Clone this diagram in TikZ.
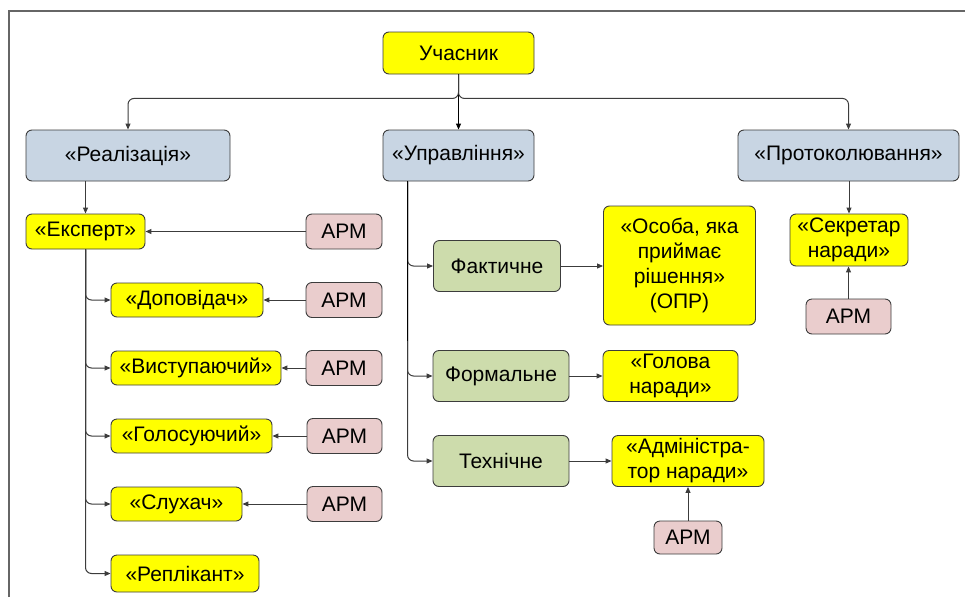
\documentclass[tikz,border=0pt]{standalone}
\usepackage{fontspec}
\setmainfont{Liberation Sans}
\usepackage{tikz}
\usepackage{xcolor}
\usetikzlibrary{arrows.meta, positioning, calc}
\definecolor{cYellow}{RGB}{255,255,0}
\definecolor{cSteel}{RGB}{200,213,227}
\definecolor{cSage}{RGB}{205,220,172}
\definecolor{cRose}{RGB}{234,205,205}
\definecolor{cLine}{RGB}{60,60,60}
\tikzset{
    basebox/.style  ={rectangle, rounded corners=6pt, draw=cLine, line width=0.9pt, align=center, inner sep=2pt, text=black},
    role/.style     ={basebox, fill=cYellow, minimum height=34pt},
    group/.style    ={basebox, fill=cSteel, minimum height=51pt},
    kind/.style     ={basebox, fill=cSage, minimum height=51pt},
    armbox/.style   ={basebox, fill=cRose, minimum width=76pt, minimum height=35pt},
    flowarrow/.style={-{Triangle[length=6pt,width=5pt]}, line width=1pt, draw=cLine},
}

\begin{document}
\begin{tikzpicture}[x=1pt, y=-1pt, every node/.style={font=\fontsize{21}{25}\selectfont}]
        \useasboundingbox (0,0) rectangle (965,597);
        % frame
        \draw[line width=1.5pt, draw=black!60] (9,597) -- (9,11) -- (965,11);
        % top
        \node[role, minimum width=151pt, minimum height=42pt] (part) at (458.5,53) {Учасник};
        \node[group, minimum width=204pt] (real) at (128,155.5) {«Реалізація»};
        \node[group, minimum width=151pt] (upr) at (458.5,155.5) {«Управління»};
        \node[group, minimum width=221pt] (prot) at (848.5,155.5) {«Протоколювання»};
        % realisation branch
        \node[role, minimum width=119pt, minimum height=35pt] (expert) at (85.5,231.5) {«Експерт»};
        \node[role, minimum width=152pt] (dop) at (187,300) {«Доповідач»};
        \node[role, minimum width=170pt] (vyst) at (196,368) {«Виступаючий»};
        \node[role, minimum width=161pt] (golos) at (191.5,436) {«Голосуючий»};
        \node[role, minimum width=131pt] (sluh) at (176.5,504) {«Слухач»};
        \node[role, minimum width=148pt, minimum height=37pt] (repl) at (185,573.5) {«Реплікант»};
        \node[armbox] (arm1) at (344,231.5) {АРМ};
        \node[armbox] (arm2) at (344,300) {АРМ};
        \node[armbox] (arm3) at (344,368) {АРМ};
        \node[armbox, minimum width=75pt] (arm4) at (344.5,436) {АРМ};
        \node[armbox, minimum width=75pt] (arm5) at (344.5,504) {АРМ};
        % management branch
        \node[kind, minimum width=127pt] (fakt) at (497,266) {Фактичне};
        \node[kind, minimum width=136pt] (form) at (501,376) {Формальне};
        \node[kind, minimum width=136pt] (tech) at (501,461) {Технічне};
        \node[role, minimum width=152pt, minimum height=119pt] (opr) at (679.5,265.5) {«Особа, яка\\приймає\\рішення»\\(ОПР)};
        \node[role, minimum width=135pt, minimum height=51pt] (golova) at (670.5,376) {«Голова\\наради»};
        \node[role, minimum width=152pt, minimum height=51pt] (admin) at (688,461) {«Адміністра-\\тор наради»};
        \node[armbox, minimum width=68pt, minimum height=33pt] (arm6) at (688,537.5) {АРМ};
        % protocol branch
        \node[role, minimum width=118pt, minimum height=52pt] (sekr) at (849,240) {«Секретар\\наради»};
        \node[armbox, minimum width=85pt] (arm7) at (848.5,316.5) {АРМ};

        \coordinate (ut) at ([xshift=25pt]upr.south west);

        % arrows
        \draw[flowarrow, rounded corners=6pt] (part.south) -- ++(0,24) -| (real.north);
        \draw[flowarrow, draw=black] (part.south) -- (upr.north);
        \draw[flowarrow, rounded corners=6pt] (part.south) -- ++(0,24) -| (prot.north);
        \draw[flowarrow] (real.south -| expert.north) -- (expert.north);
        \foreach \n in {dop, vyst, golos, sluh, repl}
            \draw[flowarrow, rounded corners=6pt] (expert.south) |- (\n.west);
        \foreach \a/\n in {arm1/expert, arm2/dop, arm3/vyst, arm4/golos, arm5/sluh}
            \draw[flowarrow] (\a.west) -- (\n.east);
        \foreach \n in {fakt, form, tech}
            \draw[flowarrow, rounded corners=6pt] (ut) |- (\n.west);
        \draw[line width=1.6pt, draw=black] (ut) -- ++(0,160);
        \draw[flowarrow] (fakt.east) -- (fakt.east -| opr.west);
        \draw[flowarrow] (form.east) -- (golova.west);
        \draw[flowarrow] (tech.east) -- (admin.west);
        \draw[flowarrow] (arm6.north) -- (admin.south);
        \draw[flowarrow] (prot.south -| sekr.north) -- (sekr.north);
        \draw[flowarrow] (arm7.north) -- (arm7.north |- sekr.south);
    \end{tikzpicture}
\end{document}
